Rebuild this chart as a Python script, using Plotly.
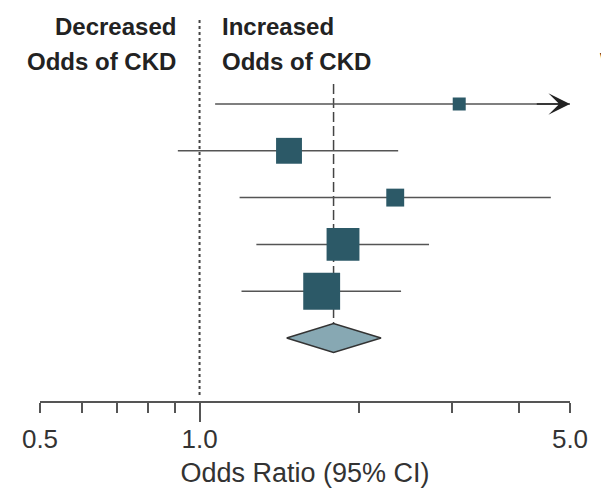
import numpy as np
import plotly.graph_objects as go

# ---- data ----
rows = [1, 2, 3, 4, 5]
or_est = [3.09, 1.475, 2.34, 1.865, 1.70]
ci_low = [1.07, 0.91, 1.19, 1.28, 1.20]
ci_high = [7.0, 2.37, 4.60, 2.71, 2.40]   # first study CI extends past axis (arrow)
weights = [4.7, 18.6, 8.9, 30.0, 37.8]     # study weight, %
pooled_row = 6
pooled_est = 1.79
pooled_low = 1.46
pooled_high = 2.20
tick_vals = [0.5, 0.6, 0.7, 0.8, 0.9, 1.0, 2.0, 3.0, 4.0, 5.0]
tick_text = ["0.5", "", "", "", "", "1.0", "", "", "", "5.0"]
x_min, x_max = 0.5, 5.0

SQ = "#2c5967"
LINE = "#555555"
TXT = "#222222"
FONT = "Liberation Sans"


def ypx(px):
    """page pixel row -> y data units (row 1 at 104 px, 46.8 px per row)"""
    return 1 + (px - 104) / 46.8


fig = go.Figure()

# reference lines
fig.add_trace(go.Scatter(x=[1.0, 1.0], y=[ypx(20), ypx(397)], mode="lines",
                         line=dict(color="#444", width=2, dash="dot"), hoverinfo="skip"))
fig.add_trace(go.Scatter(x=[pooled_est, pooled_est], y=[ypx(84), ypx(324)], mode="lines",
                         line=dict(color="#444", width=1.5, dash="10px,4px"), hoverinfo="skip"))

# CI lines
cx, cy = [], []
for r, lo, hi in zip(rows, ci_low, ci_high):
    cx += [lo, min(hi, x_max), None]
    cy += [r, r, None]
fig.add_trace(go.Scatter(x=cx, y=cy, mode="lines", line=dict(color=LINE, width=1.5),
                         hoverinfo="skip"))

# squares
fig.add_trace(go.Scatter(x=or_est, y=rows, mode="markers",
                         marker=dict(symbol="square", color=SQ, opacity=1,
                                     size=[6.0 * np.sqrt(w) for w in weights],
                                     line=dict(width=0))))

# pooled diamond
h = 0.31
fig.add_trace(go.Scatter(x=[pooled_low, pooled_est, pooled_high, pooled_est, pooled_low],
                         y=[pooled_row, pooled_row - h, pooled_row, pooled_row + h, pooled_row],
                         mode="lines", fill="toself", fillcolor="#87a8b3",
                         line=dict(color="#333", width=1.5)))

# dummy trace for the second x axis (long tick at 1.0)
fig.add_trace(go.Scatter(x=[1.0], y=[0], xaxis="x2", mode="markers",
                         marker=dict(opacity=0), hoverinfo="skip"))

# arrowheads for truncated CIs
for r, hi in zip(rows, ci_high):
    if hi > x_max:
        fig.add_annotation(x=np.log10(x_max), y=r, ax=np.log10(4.3), ay=r,
                           xref="x", yref="y", axref="x", ayref="y",
                           showarrow=True, arrowhead=3, arrowsize=2.4, arrowwidth=1.5,
                           arrowcolor="#222", text="")

hdr_font = dict(family=FONT, size=24, color=TXT, weight="bold")
headers = [
    ("Decreased", "Odds of CKD", (178 - 40) / 530, "right"),
    ("Increased", "Odds of CKD", (220 - 40) / 530, "left"),
    ("", "Weight, %", (598 - 40) / 530, "left"),
]
for l1, l2, xp, anc in headers:
    for txt, py in ((l1, 26), (l2, 61)):
        if txt:
            fig.add_annotation(x=xp, y=ypx(py), xref="paper", yref="y",
                               text=txt, showarrow=False,
                               xanchor=anc, yanchor="middle", font=hdr_font)

rng = [np.log10(x_min), np.log10(x_max)]
# figure is offset by 8 px (page body margin), so margins are shifted accordingly
fig.update_layout(
    width=609, height=491,
    margin=dict(l=32, r=47, t=0, b=98),
    plot_bgcolor="white", paper_bgcolor="white",
    showlegend=False,
    font=dict(family=FONT, color=TXT),
    xaxis=dict(type="log", range=rng, tickvals=tick_vals, ticktext=tick_text,
               ticks="outside", ticklen=10, tickwidth=1.5, tickcolor=LINE,
               showline=True, linecolor=LINE, linewidth=1.5,
               showgrid=False, zeroline=False, automargin=False,
               ticklabelstandoff=4,
               tickfont=dict(family=FONT, size=26, color="#333"),
               title=dict(text="Odds Ratio (95% CI)", standoff=10,
                          font=dict(family=FONT, size=27, color="#333"))),
    xaxis2=dict(type="log", range=rng, overlaying="x", anchor="y", side="bottom",
                tickvals=[1.0], ticks="outside", ticklen=20, tickwidth=1.5,
                tickcolor=LINE, showticklabels=False, showline=False,
                showgrid=False, zeroline=False, automargin=False),
    yaxis=dict(range=[ypx(401), ypx(8)], visible=False),
)

fig.write_html("out.html")
